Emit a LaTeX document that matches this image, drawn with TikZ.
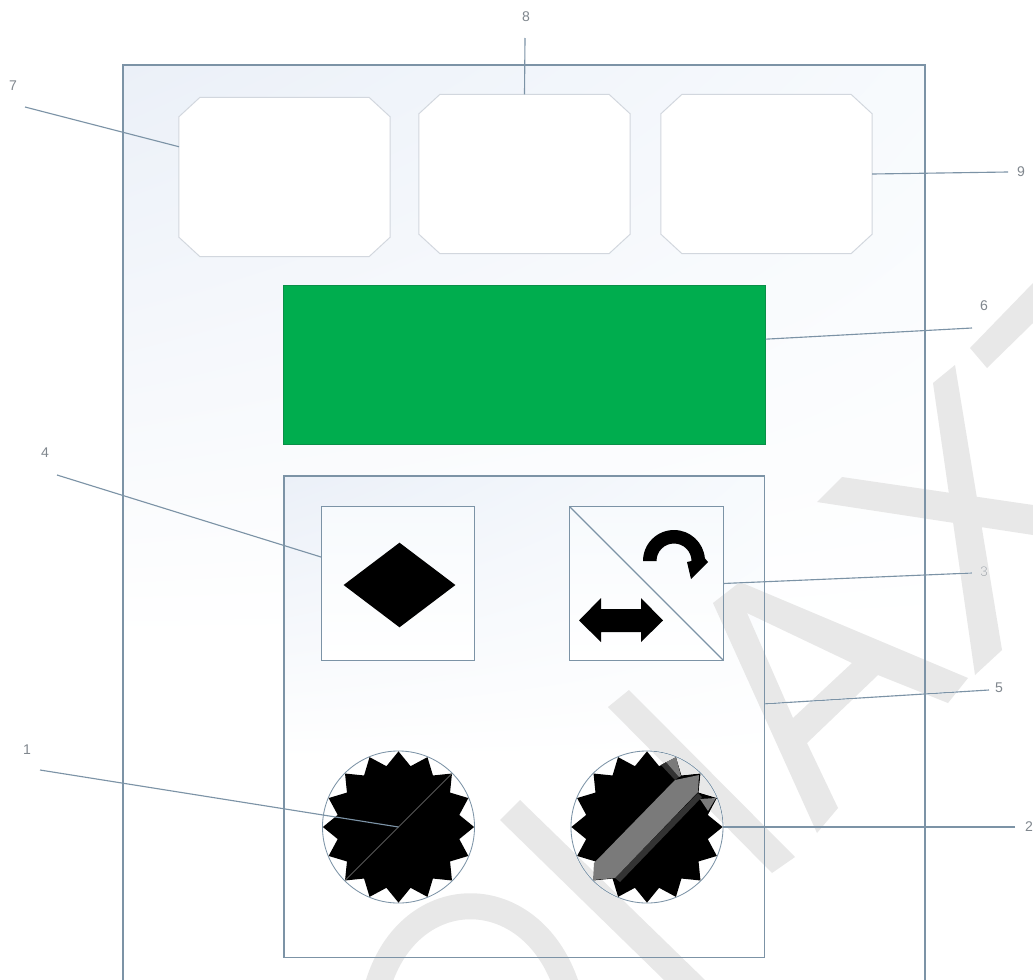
\documentclass[tikz,border=0pt]{standalone}
\usepackage{fontspec}
\setmainfont{Liberation Sans}
\definecolor{lnc}{HTML}{7C93A6}
\definecolor{bezc}{HTML}{D2D7DE}
\definecolor{tint}{HTML}{EBF0F8}
\definecolor{tintb}{HTML}{F7FAFD}
\definecolor{lcd}{HTML}{00AD4E}
\definecolor{lcdd}{HTML}{0A8F48}
\definecolor{numc}{HTML}{80878E}
\definecolor{barc}{HTML}{7A7A7A}
\definecolor{bard}{HTML}{333333}
\definecolor{wmc}{HTML}{E8E8E8}
\usetikzlibrary{shapes.geometric,shadings,positioning}
\newcommand{\bevel}[1]{\draw[fill=white, draw=bezc, line width=0.7pt]
  ([xshift=0.52cm]#1.north west) -- ([xshift=-0.52cm]#1.north east) -- ([yshift=-0.48cm]#1.north east)
  -- ([yshift=0.48cm]#1.south east) -- ([xshift=-0.52cm]#1.south east) -- ([xshift=0.52cm]#1.south west)
  -- ([yshift=0.48cm]#1.south west) -- ([yshift=-0.48cm]#1.north west) -- cycle;}

\begin{document}
\begin{tikzpicture}[x=0.025cm, y=-0.025cm,
  bez/.style={rectangle, minimum width=5.275cm, minimum height=3.975cm, inner sep=0pt, outer sep=0pt},
  sq/.style={rectangle, minimum size=3.83cm, inner sep=0pt, outer sep=0pt,
             top color=tintb, bottom color=white, draw=lnc, line width=0.8pt},
  ring/.style={circle, minimum size=3.8cm, inner sep=0pt, outer sep=0pt, draw=lnc, line width=0.6pt},
  gear/.style={star, star points=16, star point ratio=1.22, minimum size=3.78cm, inner sep=0pt,
               outer sep=0pt, fill=black},
  ld/.style={draw=lnc, line width=0.8pt},
  lb/.style={font=\fontsize{10}{12}\selectfont, text=numc, inner sep=1pt},
  wm/.style={fill=wmc, even odd rule},
]
\useasboundingbox (0,0) rectangle (1033,980);
\fill[white] (0,0) rectangle (1033,980);

% housing
\shade[upper left=tint, upper right=tintb, lower left=white, lower right=white] (123,65) rectangle (925,640);
\draw[ld] (123,980) -- (123,65) -- (925,65) -- (925,980);

\node[bez] (box7) at (284.5,177) {};
\node[bez] (box8) at (524.5,174) {};
\node[bez] (box9) at (766.5,174) {};
\bevel{box7} \bevel{box8} \bevel{box9}
\node[rectangle, minimum width=12.05cm, minimum height=3.98cm, inner sep=0pt, outer sep=0pt,
      fill=lcd, draw=lcdd, line width=0.5pt] (box6) at (524.5,364.5) {};

% control panel
\shade[upper left=tint, upper right=tintb, lower left=white, lower right=white] (284,476) rectangle (764,760);
\node[rectangle, minimum width=12cm, minimum height=12.025cm, inner sep=0pt, outer sep=0pt,
      draw=lnc, line width=0.8pt] (panel) at (524,716.5) {};

\node[sq] (box4) at (398,583.5) {};
\node[sq] (box3) at (646.5,583.5) {};
\node[diamond, aspect=1.32, minimum width=2.8cm, minimum height=2.12cm, inner sep=0pt, fill=black] (mode) at (399.5,585) {};
\draw[ld] (box3.north west) -- (box3.south east);

% direction symbols
\fill (579,620.5) -- (601,598) -- (601,609) -- (641,609) -- (641,598) -- (663,620.5) -- (641,642) -- (641,632) -- (601,632) -- (601,642) -- cycle;
\fill (643,561) arc[start angle=180, end angle=355, radius=31] -- (708,562) -- (691,579) -- (687,562)
  -- (691.5,561) arc[start angle=0, end angle=-180, radius=17.5] -- cycle;

% dials
\node[ring] (ring1) at (398.5,827) {};
\node[gear] (gear1) at (398.5,827) {};
\node[ring] (ring2) at (647,827) {};
\node[gear] (gear2) at (647,827) {};
\draw[gray, line width=0.3pt] (gear1.outer point 7) -- (gear1.outer point 15);
\fill[bard] (661,765) -- (666,762) -- (679,777) -- (675,780) -- cycle;
\fill[bard] (615,878) -- (698,793) -- (702,797) -- (620,882) -- cycle;
\fill[barc] (594,863) -- (675,780) -- (699,775) -- (698,792) -- (615,878) -- (593,880) -- cycle;
\fill[barc] (666,762) -- (676,757) -- (681,776) -- (679,777) -- cycle;
\fill[barc] (700,799) -- (716,798) -- (708,811) -- cycle;

% numbers
\node[lb] (lab1) at (27,750) {1};
\node[lb] (lab2) at (1029,827) {2};
\node[lb, text=numc!60] (lab3) at (984,572) {3};
\node[lb] (lab4) at (45,453) {4};
\node[lb] (lab5) at (999,688) {5};
\node[lb] (lab6) at (984,306) {6};
\node[lb] (lab7) at (13,86) {7};
\node[lb] (lab8) at (526,17) {8};
\node[lb] (lab9) at (1021,172) {9};

\coordinate (e1) at (40,770);
\coordinate (e2) at (1015,827);
\coordinate (e3) at (972,573);
\coordinate (e4) at (57,475);
\coordinate (e5) at (989,690);
\coordinate (e6) at (972,328);
\coordinate (e7) at (25,107);
\coordinate (e8) at (525,38);
\coordinate (e9) at (1008,172);

\draw[ld] (e1) -- (ring1.center);
\draw[ld] (e2) -- (ring2.east);
\draw[ld] (e3) -- (box3.east);
\draw[ld] (e4) -- (box4.161);
\draw[ld] (e5) -- (panel.3);
\draw[ld] (e6) -- (box6.6);
\draw[ld] (e7) -- (box7.164);
\draw[ld] (e8) -- (box8.north);
\draw[ld] (e9) -- (box9.east);

% watermark
\begin{scope}[blend mode=darken]
\fill[wm] (970,348) -- (1033,283) -- (1033,323) -- (987,368) -- cycle;
\fill[wm] (933,383) -- (955,365) -- (1002,650) -- (975,675) -- cycle;
\fill[wm] (817,502) -- (842,477) -- (1033,505) -- (1033,535) -- cycle;
\fill[wm] (713,603) -- (740,582) -- (968,678) -- (948,703) -- (878,675) -- (807,743) -- (838,808) -- (817,833) -- cycle
  (747,613) -- (852,663) -- (793,718) -- cycle;
\fill[wm] (608,707) -- (629,690) -- (795,857) -- (772,873) -- cycle;
\fill[wm] (500,820) -- (520,800) -- (705,980) -- (664,980) -- cycle;
\draw[draw=wmc, line width=0.65cm] (378,985) .. controls (410,880) and (530,880) .. (566,985);
\end{scope}
\end{tikzpicture}
\end{document}
